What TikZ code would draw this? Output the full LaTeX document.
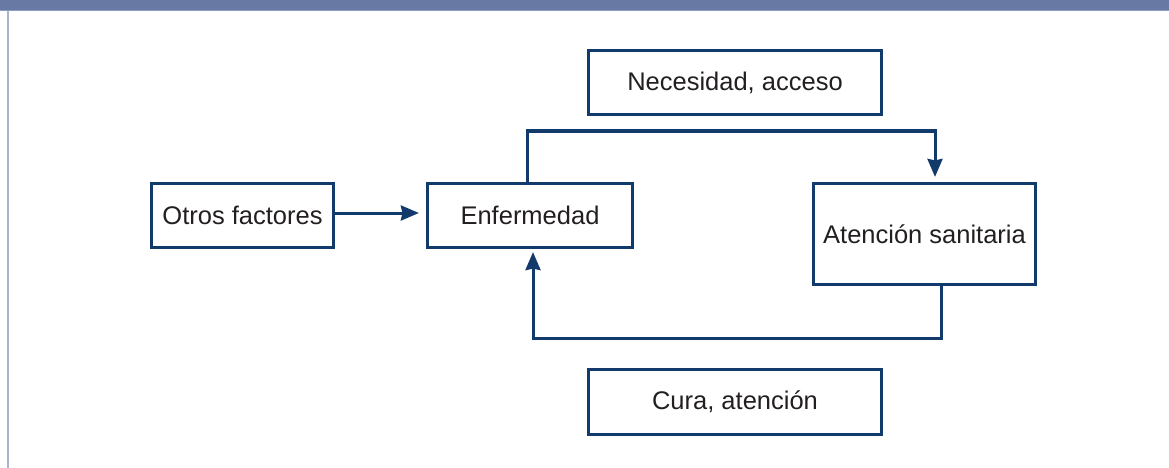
\documentclass[tikz,border=0pt]{standalone}
\usepackage{fontspec}
\setmainfont{Liberation Sans}
\usetikzlibrary{arrows.meta}
\definecolor{navy}{HTML}{123A6B}
\definecolor{bar}{HTML}{6879A3}
\definecolor{barline}{HTML}{8E9DC2}
\definecolor{edge}{HTML}{A9B5CE}
\definecolor{txt}{HTML}{231F20}
\begin{document}
\begin{tikzpicture}[x=1pt,y=-1pt,
  box/.style={draw=navy,line width=3.2pt,fill=white,inner sep=0pt,text=txt,
    font=\fontsize{25.5}{30}\selectfont},
  conn/.style={draw=navy,line width=3pt,
    -{Stealth[length=18pt,width=15pt,inset=1.5pt]}}]
\useasboundingbox (0,0) rectangle (1169,468);
\fill[white] (0,0) rectangle (1169,468);
\fill[bar] (0,0) rectangle (1169,10);
\draw[barline,line width=1.2pt] (0,10.3) -- (1169,10.3);
\draw[edge,line width=1.5pt] (8,11) -- (8,468);
\node[box,minimum width=182pt,minimum height=64pt] (otros) at (242.5,215.5) {Otros factores};
\node[box,minimum width=205pt,minimum height=64pt] (enf) at (530,215.5) {Enfermedad};
\node[box,minimum width=293pt,minimum height=64pt] (nec) at (735,82.5) {Necesidad, acceso};
\node[box,minimum width=222pt,minimum height=101pt] (aten) at (924.5,234) {Atención sanitaria};
\node[box,minimum width=293pt,minimum height=65pt] (cura) at (735,402) {Cura, atención};
\coordinate (t1) at ([xshift=-3pt]enf.north);
\coordinate (t2) at ([xshift=10.5pt]aten.north);
\coordinate (b1) at ([xshift=16.5pt]aten.south);
\coordinate (b2) at ([xshift=3pt]enf.south);
\draw[conn,shorten >=5pt] (t1) |- (nec.south |- 0,131) -| (t2);
\draw[conn,shorten >=3pt] (b1) |- (cura.north |- 0,338) -| (b2);
\draw[conn,shorten >=7pt] ([yshift=2.5pt]otros.east) -- ([yshift=2.5pt]otros.east -| enf.west);
\end{tikzpicture}
\end{document}
